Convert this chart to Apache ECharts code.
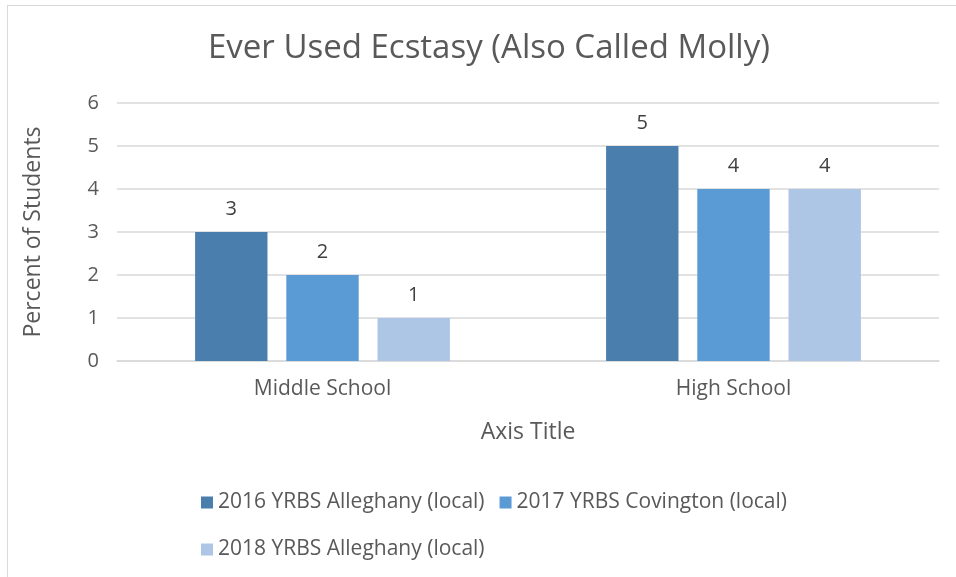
<!DOCTYPE html>
<html>
<head>
<meta charset="utf-8">
<script src="https://cdn.jsdelivr.net/npm/echarts@6/dist/echarts.min.js"></script>
<style>
  html, body { margin: 0; padding: 0; background: #fff; }
  #chart { position: absolute; left: 0; top: 0; width: 956px; height: 577px; }
  #frame { position: absolute; left: 7px; top: 5px; width: 960px; height: 590px; border: 1px solid #d9d9d9; pointer-events: none; }
</style>
</head>
<body>
<div id="chart"></div>
<div id="frame"></div>
<script>
const categories = ["Middle School", "High School"];
const seriesNames = ["2016 YRBS Alleghany (local)", "2017 YRBS Covington (local)", "2018 YRBS Alleghany (local)"];
const values2016 = [3, 5];
const values2017 = [2, 4];
const values2018 = [1, 4];
const colors = ["#4a7ead", "#5b9bd5", "#adc6e5"];

const font = "'Open Sans', sans-serif";
const textColor = "#595959";

const chart = echarts.init(document.getElementById("chart"));

const makeSeries = (name, data, i) => ({
  name: name,
  type: "bar",
  data: data,
  barGap: "26%",
  barCategoryGap: "38%",
  itemStyle: { color: colors[i] },
  label: {
    show: true,
    position: "top",
    distance: 13,
    color: "#404040",
    fontFamily: font,
    fontSize: 20,
  },
});

const legendText = { fontFamily: font, fontSize: 21, color: textColor };

chart.setOption({
  animation: false,
  title: {
    text: "Ever Used Ecstasy (Also Called Molly)",
    left: 203,
    top: 27,
    textStyle: { fontFamily: font, fontSize: 33, fontWeight: "normal", color: textColor },
  },
  legend: [
    {
      data: seriesNames.slice(0, 2),
      left: 196,
      top: 487,
      itemWidth: 12,
      itemHeight: 12,
      itemGap: 15,
      icon: "rect",
      textStyle: legendText,
    },
    {
      data: seriesNames.slice(2),
      left: 196,
      top: 534,
      itemWidth: 12,
      itemHeight: 12,
      icon: "rect",
      textStyle: legendText,
    },
  ],
  grid: { left: 117, right: 17, top: 103, bottom: 216 },
  xAxis: {
    type: "category",
    data: categories,
    name: "Axis Title",
    nameLocation: "middle",
    nameGap: 60,
    nameTextStyle: { fontFamily: font, fontSize: 23, color: textColor },
    axisLine: { lineStyle: { color: "#d9d9d9", width: 1.5 } },
    axisTick: { show: false },
    axisLabel: { fontFamily: font, fontSize: 21, color: textColor, margin: 18 },
  },
  yAxis: {
    type: "value",
    min: 0,
    max: 6,
    interval: 1,
    name: "Percent of Students",
    nameLocation: "middle",
    nameGap: 72,
    nameTextStyle: { fontFamily: font, fontSize: 23, color: textColor },
    axisLine: { show: false },
    axisTick: { show: false },
    splitLine: { lineStyle: { color: "#d9d9d9", width: 1.5 } },
    axisLabel: { fontFamily: font, fontSize: 20, color: textColor, margin: 18 },
  },
  series: [
    makeSeries(seriesNames[0], values2016, 0),
    makeSeries(seriesNames[1], values2017, 1),
    makeSeries(seriesNames[2], values2018, 2),
  ],
});
</script>
</body>
</html>
